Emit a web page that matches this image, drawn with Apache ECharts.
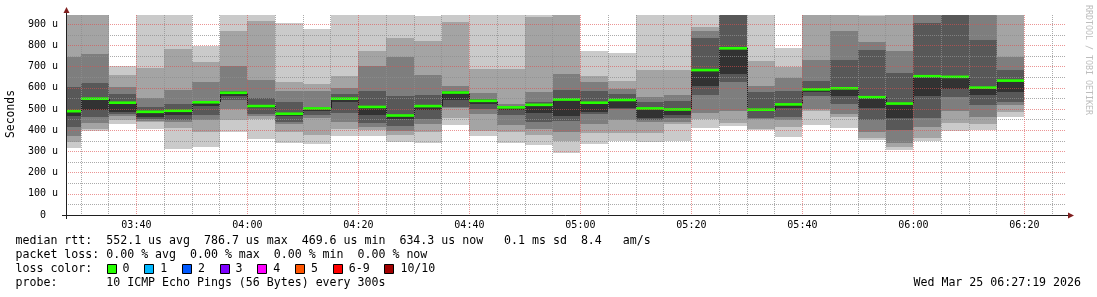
<!DOCTYPE html>
<html><head><meta charset="utf-8">
<script src="https://cdn.jsdelivr.net/npm/echarts@6/dist/echarts.min.js"></script>
<style>html,body{margin:0;padding:0;background:#fff}#c{width:1097px;height:297px}</style>
</head><body><div id="c"></div>
<script>
// ---- data (5-minute columns, start time of each column) ----
const times = ['03:25','03:30','03:35','03:40','03:45','03:50','03:55','04:00','04:05','04:10','04:15','04:20',
  '04:25','04:30','04:35','04:40','04:45','04:50','04:55','05:00','05:05','05:10','05:15','05:20','05:25','05:30',
  '05:35','05:40','05:45','05:50','05:55','06:00','06:05','06:10','06:15'];
// sorted ping RTTs (microseconds), ping1 = fastest ... ping10 = slowest; median is the 6th
const ping1  = [318,395,430,407,313,323,394,359,341,336,374,375,346,342,425,373,342,331,294,333,350,346,348,412,421,399,367,425,409,354,305,351,398,401,464];
const ping2  = [346,405,450,438,410,394,447,453,393,378,404,400,378,393,456,396,390,378,351,385,389,388,430,455,432,405,417,492,461,362,323,362,433,430,488];
const ping3  = [373,435,465,445,440,449,500,468,430,460,440,415,395,430,505,477,425,405,390,430,449,440,440,483,493,452,449,499,477,394,342,414,493,464,519];
const ping4  = [417,461,477,453,448,472,545,476,437,470,483,436,420,452,512,500,472,441,445,475,498,448,457,567,629,457,461,562,524,449,401,456,559,519,535];
const ping5  = [469,496,488,462,472,515,561,505,468,492,533,472,455,497,545,525,494,483,465,484,504,456,472,609,667,492,505,582,562,504,456,562,593,567,582];
const median = [490,549,530,487,492,532,577,514,478,503,549,510,469.6,514,578,539,508,520,545,530,543,503,498,684,786.7,497,522,593,598,556,526,655,652,601,634.3];
const ping7  = [603,623,570,510,524,540,585,551,535,510,570,587,562,567,586,546,515,534,590,586,570,535,539,837,960,582,585,633,732,779,672,908,960,826,684];
const ping8  = [744,760,603,552,590,629,703,637,587,587,598,703,746,661,609,574,524,581,665,629,593,556,566,869,980,609,646,732,869,815,774,960,980,960,747];
const ping9  = [960,960,661,693,782,724,870,916,629,618,656,775,836,821,913,689,688,936,960,656,633,684,684,889,990,728,700,960,960,938,960,980,990,980,960];
const ping10 = [990,990,703,990,990,799,990,990,905,878,990,990,990,939,990,990,990,942,990,775,766,990,990,990,1000,990,790,1000,1000,944,1000,1000,1000,1000,1000];
const lossLabels = ['0','1','2','3','4','5','6-9','10/10'];
const lossColors = ['#26ff00','#00b8ff','#0059ff','#7e00ff','#ff00ff','#ff5500','#ff0000','#a00000'];
const yMax = 944;           // upper limit of the graph (us)
const viewStart = '03:27:19', viewEnd = '06:27:19';
const legendLines = [
  'median rtt:  552.1 us avg  786.7 us max  469.6 us min  634.3 us now   0.1 ms sd  8.4   am/s',
  'packet loss: 0.00 % avg  0.00 % max  0.00 % min  0.00 % now',
  'loss color:',
  'probe:       10 ICMP Echo Pings (56 Bytes) every 300s'
];
const dateText = 'Wed Mar 25 06:27:19 2026';

// ---- styles ----
const SMOKE = ['#cacaca','#a4a4a4','#7e7e7e','#585858','#323232'];
const MGRID = 'rgba(222,79,79,0.6)';
const GRID = 'rgba(143,143,143,0.75)';
const FONT = '"DejaVu Sans Mono", monospace';
const STEP = 5, LOSS_HALF = 6.2;

function toMin(s){ const p = s.split(':').map(Number); return p[0]*60 + p[1] + (p[2]||0)/60; }
function fmt(v){ const h = Math.floor(v/60), m = Math.round(v - h*60); return String(h).padStart(2,'0')+':'+String(m).padStart(2,'0'); }

const pings = [ping1,ping2,ping3,ping4,ping5,median,ping7,ping8,ping9,ping10];
const data = times.map((t,i) => [toMin(t), toMin(t)+STEP].concat(pings.map(a => a[i])));

const chart = echarts.init(document.getElementById('c'));
const L = 66, T = 15, B = 215, R = 1065;

function renderItem(params, api){
  const i = params.dataIndex;
  const x0 = Math.round(api.coord([api.value(0), 0])[0]);
  const x1 = Math.round(api.coord([api.value(1), 0])[0]);
  const ps = []; for (let d = 2; d < 12; d++) ps.push(api.value(d));
  const yc = v => Math.round(api.coord([api.value(0), v])[1]);
  const ch = [];
  for (let k = 0; k < 5; k++){
    const top = yc(ps[9-k]), bot = yc(ps[k]);
    ch.push({type:'rect', shape:{x:x0, y:top, width:x1-x0, height:bot-top}, style:{fill:SMOKE[k]}});
  }
  if (i > 0){
    ch.push({type:'line', shape:{x1:x0+0.5, y1:yc(median[i-1]), x2:x0+0.5, y2:yc(median[i])}, style:{stroke:'#202020', lineWidth:1}});
  }
  const m = median[i];
  const g0 = api.coord([api.value(0), m + LOSS_HALF])[1], g1 = api.coord([api.value(0), m - LOSS_HALF])[1];
  ch.push({type:'rect', shape:{x:x0, y:g0, width:x1-x0, height:g1-g0}, style:{fill:lossColors[0]}});
  return {type:'group', children: ch};
}

const graphics = [];
// axes with arrows
graphics.push({type:'line', z:100, shape:{x1:62, y1:B+0.5, x2:1069, y2:B+0.5}, style:{stroke:'#1f1f1f', lineWidth:1}});
graphics.push({type:'polygon', z:100, shape:{points:[[1068,B-2.5],[1068,B+3.5],[1074,B+0.5]]}, style:{fill:'#801f1f'}});
graphics.push({type:'line', z:100, shape:{x1:L+0.5, y1:B+4, x2:L+0.5, y2:13}, style:{stroke:'#1f1f1f', lineWidth:1}});
graphics.push({type:'polygon', z:100, shape:{points:[[L-2.5,13],[L+3.5,13],[L+0.5,7]]}, style:{fill:'#801f1f'}});
// unit label and watermark
graphics.push({type:'text', z:100, x:11, y:114, rotation:Math.PI/2, style:{text:'Seconds', font:'11.4px '+FONT, fill:'#000', align:'center', verticalAlign:'middle'}});
graphics.push({type:'text', z:100, x:1088, y:60, rotation:-Math.PI/2, style:{text:'RRDTOOL / TOBI OETIKER', font:'8.3px '+FONT, fill:'#bdbdbd', align:'center', verticalAlign:'middle'}});
// legend
const lineY = [241, 255, 269, 283];
const LF = '11.6px ' + FONT, CW = 7.0, LX = 15.5;
legendLines.forEach((s, k) => graphics.push({type:'text', z:100, x:LX, y:lineY[k], style:{text:s, font:LF, fill:'#000', align:'left', verticalAlign:'middle'}}));
let bx = LX + 13*CW;
lossLabels.forEach((lab, k) => {
  graphics.push({type:'rect', z:100, shape:{x:Math.round(bx)+0.5, y:lineY[2]-4.5, width:9, height:9}, style:{fill:lossColors[k], stroke:'#000', lineWidth:1}});
  graphics.push({type:'text', z:100, x:bx+16, y:lineY[2], style:{text:lab, font:LF, fill:'#000', align:'left', verticalAlign:'middle'}});
  bx += 16.7 + CW*lab.length + 2*CW;
});
graphics.push({type:'text', z:100, x:1081, y:lineY[3], style:{text:dateText, font:LF, fill:'#000', align:'right', verticalAlign:'middle'}});

chart.setOption({
  animation:false,
  backgroundColor:'#ffffff',
  grid:{left:L, top:T, width:R-L, height:B-T, containLabel:false},
  xAxis:{
    type:'value', min:toMin(viewStart), max:toMin(viewEnd), splitNumber:9, z:10,
    axisLine:{show:false}, axisTick:{show:false},
    axisLabel:{formatter:v => (Math.abs(v/20 - Math.round(v/20)) < 1e-6 ? fmt(v) : ''), color:'#000', fontFamily:FONT, fontSize:10, margin:5},
    splitLine:{show:true, showMinLine:false, showMaxLine:false, lineStyle:{color:MGRID, type:[1,1], width:1}},
    minorTick:{show:false, splitNumber:4},
    minorSplitLine:{show:true, lineStyle:{color:GRID, type:[1,1], width:1}}
  },
  yAxis:{
    type:'value', min:0, max:yMax, splitNumber:10, z:10,
    axisLine:{show:false}, axisTick:{show:false},
    axisLabel:{formatter:v => (v % 100 !== 0 ? '' : (v === 0 ? '0\u00a0\u00a0' : v + ' u')), color:'#000', fontFamily:FONT, fontSize:10, margin:8},
    splitLine:{show:true, showMinLine:false, showMaxLine:false, lineStyle:{color:MGRID, type:[1,1], width:1}},
    minorTick:{show:false, splitNumber:2},
    minorSplitLine:{show:true, lineStyle:{color:GRID, type:[1,1], width:1}}
  },
  series:[{type:'custom', renderItem, data, clip:true, z:2, encode:{x:[0,1], y:[2,11]}}],
  graphic:graphics
});
</script></body></html>
